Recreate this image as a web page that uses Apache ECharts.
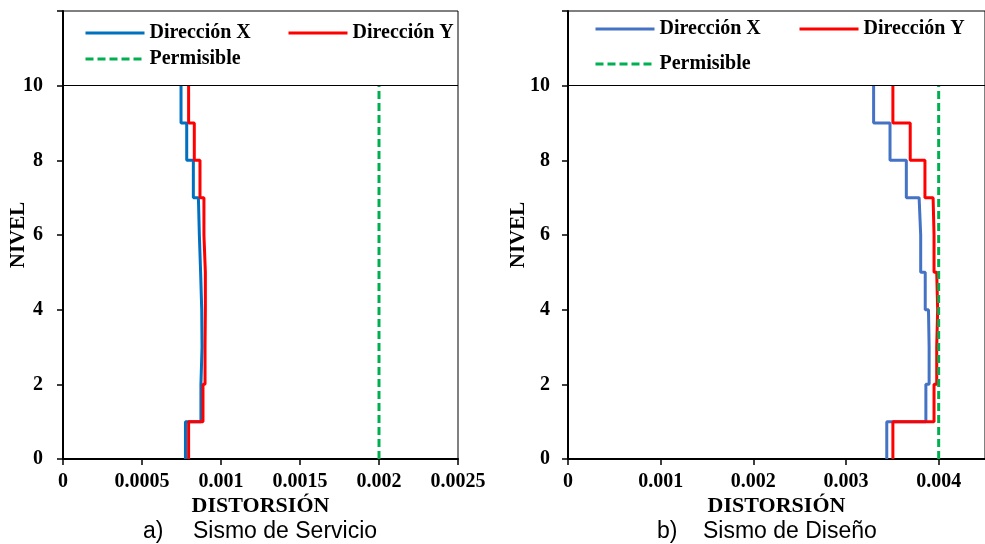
<!DOCTYPE html>
<html>
<head>
<meta charset="utf-8">
<script src="https://cdn.jsdelivr.net/npm/echarts@6/dist/echarts.min.js"></script>
<style>
html,body{margin:0;padding:0;background:#fff;}
#chart{width:985px;height:544px;}
</style>
</head>
<body>
<div id="chart"></div>
<script>
// Levels (NIVEL) 0..10
const levels = [0, 1, 2, 3, 4, 5, 6, 7, 8, 9, 10];
// Story drifts, stories 1..10 (bottom to top)
const servicioX = [0.000775, 0.000873, 0.00088, 0.000878, 0.000871, 0.000863, 0.000857, 0.000825, 0.000783, 0.000747];
const servicioY = [0.000795, 0.000886, 0.000899, 0.000901, 0.000901, 0.000892, 0.000892, 0.000867, 0.000831, 0.000795];
const disenoX = [0.00344, 0.003862, 0.003897, 0.00389, 0.003855, 0.003806, 0.003789, 0.003651, 0.003475, 0.003298];
const disenoY = [0.003506, 0.00395, 0.003979, 0.003989, 0.003979, 0.00395, 0.00394, 0.003852, 0.003693, 0.003506];
const permisibleServicio = 0.002;
const permisibleDiseno = 0.004;
const xTicksServicio = [0, 0.0005, 0.001, 0.0015, 0.002, 0.0025];
const xTicksDiseno = [0, 0.001, 0.002, 0.003, 0.004];
const yTicks = [0, 2, 4, 6, 8, 10];

const serif = 'Liberation Serif';
const C = {
  blueA: '#0070C0', blueB: '#4472C4', red: '#FF0000', green: '#00B050'
};

function stepData(drifts) {
  return levels.map((lv, i) => [drifts[Math.min(i, drifts.length - 1)], lv]);
}
function vertData(v) {
  return [[v, levels[0]], [v, levels[levels.length - 1]]];
}

function xAxisCfg(gi, max, interval, ticks, nameGap) {
  return {
    type: 'value', gridIndex: gi, min: 0, max: max, interval: interval,
    name: 'DISTORSIÓN', nameLocation: 'middle', nameGap: nameGap, nameMoveOverlap: false,
    nameTextStyle: {fontFamily: serif, fontWeight: 'bold', fontSize: 22, color: '#000'},
    axisLine: {show: true, lineStyle: {color: '#000', width: 2}},
    axisTick: {show: true, length: 6, lineStyle: {color: '#000', width: 1.5}},
    axisLabel: {
      fontFamily: serif, fontWeight: 'bold', fontSize: 20, color: '#000', margin: 13,
      showMaxLabel: ticks.indexOf(max) >= 0,
      formatter: function (v) {
        for (const t of ticks) { if (Math.abs(t - v) < 1e-9) return String(t); }
        return '';
      }
    },
    splitLine: {show: false}
  };
}
function yAxisCfg(gi, nameGap, margin) {
  return {
    type: 'value', gridIndex: gi, min: 0, max: 12, interval: 2,
    name: 'NIVEL', nameLocation: 'middle', nameGap: nameGap, nameRotate: 90, nameMoveOverlap: false,
    nameTextStyle: {fontFamily: serif, fontWeight: 'bold', fontSize: 21, color: '#000'},
    axisLine: {show: true, lineStyle: {color: '#000', width: 2}},
    axisTick: {show: true, length: 6, lineStyle: {color: '#000', width: 1.5}},
    axisLabel: {
      fontFamily: serif, fontWeight: 'bold', fontSize: 20, color: '#000', margin: margin,
      formatter: function (v) { return yTicks.indexOf(v) >= 0 ? String(v) : ''; }
    },
    splitLine: {show: false}
  };
}

function lineSeries(name, gi, data, color, dashed, withMark) {
  const s = {
    name: name, type: 'line', xAxisIndex: gi, yAxisIndex: gi,
    data: data, symbol: 'none', animation: false,
    lineStyle: {color: color, width: 3, type: dashed ? [8, 4] : 'solid'},
    itemStyle: {color: color}
  };
  if (!dashed) s.step = 'start';
  if (withMark) {
    s.markLine = {
      silent: true, symbol: 'none', animation: false, label: {show: false},
      lineStyle: {color: '#000', width: 1, type: 'solid'},
      data: [{yAxis: levels[levels.length - 1]}]
    };
  }
  return s;
}

const legendText = {fontFamily: serif, fontWeight: 'bold', fontSize: 20, color: '#000'};
function legendOne(name, left, cy, color, dashed) {
  return {
    left: left, top: cy - 9, padding: 0, itemWidth: 59, itemHeight: 14, itemGap: 5,
    selectedMode: false, textStyle: legendText,
    data: [{name: name,
            itemStyle: {color: 'rgba(0,0,0,0)', borderWidth: 0, opacity: 0},
            lineStyle: {color: color, width: 3, type: dashed ? [8, 4] : 'solid', opacity: 1}}]
  };
}

const chart = echarts.init(document.getElementById('chart'), null, {renderer: 'canvas'});
chart.setOption({
  backgroundColor: '#fff',
  animation: false,
  grid: [
    {left: 63, top: 11, right: 527, bottom: 85, show: true, borderColor: '#000', borderWidth: 1},
    {left: 568, top: 11, right: -8, bottom: 85, show: true, borderColor: '#000', borderWidth: 1}
  ],
  xAxis: [
    xAxisCfg(0, 0.0025, 0.0005, xTicksServicio, 36),
    xAxisCfg(1, 0.0045, 0.001, xTicksDiseno, 36)
  ],
  yAxis: [yAxisCfg(0, 34, 20), yAxisCfg(1, 39, 18)],
  legend: [
    legendOne('Dirección X', 84, 32, C.blueA, false),
    legendOne('Dirección Y', 287, 32, C.red, false),
    legendOne('Permisible', 84, 58, C.green, true),
    legendOne('Dirección X', 594, 28, C.blueB, false),
    legendOne('Dirección Y', 798, 28, C.red, false),
    legendOne('Permisible', 594, 63, C.green, true)
  ],
  series: [
    lineSeries('Dirección X', 0, stepData(servicioX), C.blueA, false, true),
    lineSeries('Dirección Y', 0, stepData(servicioY), C.red, false, false),
    lineSeries('Permisible', 0, vertData(permisibleServicio), C.green, true, false),
    lineSeries('Dirección X', 1, stepData(disenoX), C.blueB, false, true),
    lineSeries('Dirección Y', 1, stepData(disenoY), C.red, false, false),
    lineSeries('Permisible', 1, vertData(permisibleDiseno), C.green, true, false)
  ],
  graphic: [
    {type: 'text', left: 143, top: 520, style: {text: 'a)', fontFamily: 'Liberation Sans', fontSize: 23, fill: '#000'}},
    {type: 'text', left: 193, top: 520, style: {text: 'Sismo de Servicio', fontFamily: 'Liberation Sans', fontSize: 23, fill: '#000'}},
    {type: 'text', left: 657, top: 520, style: {text: 'b)', fontFamily: 'Liberation Sans', fontSize: 23, fill: '#000'}},
    {type: 'text', left: 703, top: 520, style: {text: 'Sismo de Diseño', fontFamily: 'Liberation Sans', fontSize: 23, fill: '#000'}}
  ]
});
</script>
</body>
</html>
